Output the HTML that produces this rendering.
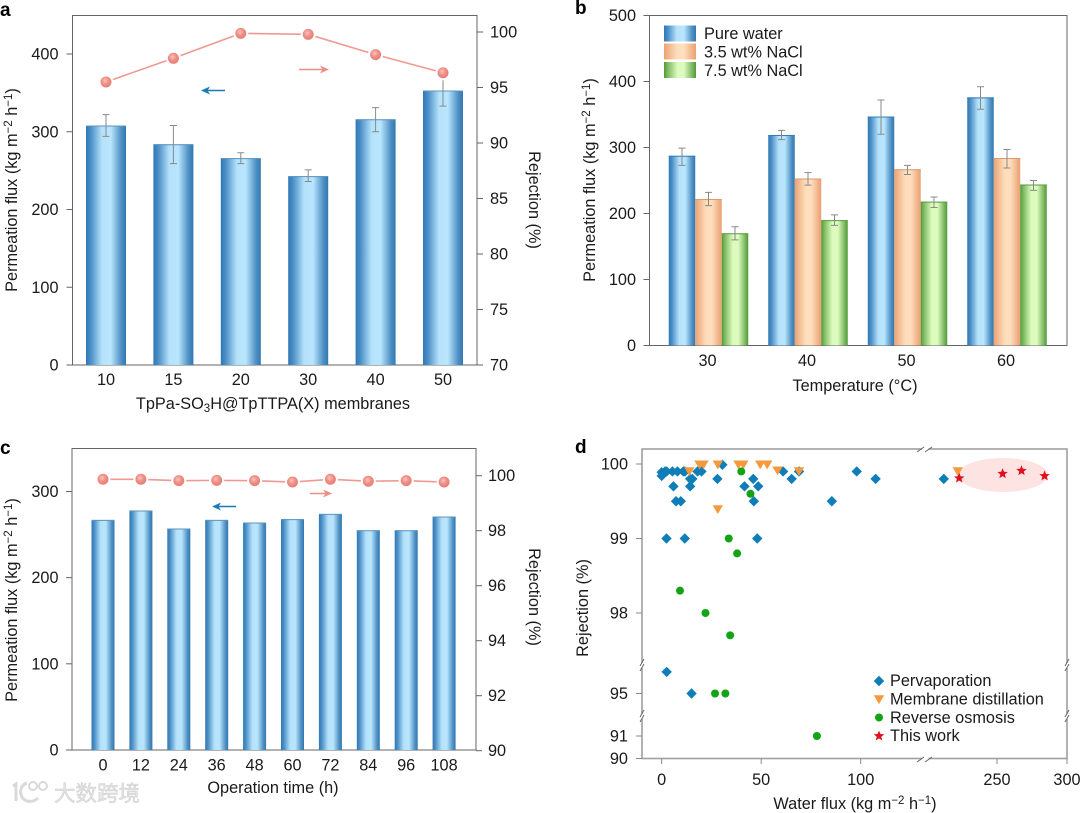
<!DOCTYPE html>
<html lang="en">
<head>
<meta charset="utf-8">
<title>Permeation flux and rejection charts</title>
<style>
html,body{margin:0;padding:0;background:#fff;}
svg{display:block;}
text{font-family:"Liberation Sans","Noto Sans CJK SC",sans-serif;fill:#1a1a1a;font-size:16.3px;}
.panel{font-weight:bold;font-size:19px;fill:#000;}
</style>
</head>
<body>
<svg id="fig" xmlns="http://www.w3.org/2000/svg" width="1080" height="813" viewBox="0 0 1080 813">
<defs>
<linearGradient id="gBlue" x1="0" x2="1" y1="0" y2="0"><stop offset="0" stop-color="#2f78b4"/><stop offset=".12" stop-color="#4a8ec6"/><stop offset=".4" stop-color="#b5e2fb"/><stop offset=".62" stop-color="#b9e6fd"/><stop offset=".88" stop-color="#4f90c4"/><stop offset="1" stop-color="#2f78b0"/></linearGradient>
<linearGradient id="gOrange" x1="0" x2="1" y1="0" y2="0"><stop offset="0" stop-color="#eca273"/><stop offset=".4" stop-color="#fddcb9"/><stop offset=".62" stop-color="#fedfbe"/><stop offset="1" stop-color="#eb9f70"/></linearGradient>
<linearGradient id="gGreen" x1="0" x2="1" y1="0" y2="0"><stop offset="0" stop-color="#4f9a38"/><stop offset=".12" stop-color="#7fbb62"/><stop offset=".42" stop-color="#dcfbbd"/><stop offset=".62" stop-color="#dffbc0"/><stop offset=".88" stop-color="#7db962"/><stop offset="1" stop-color="#4f9a38"/></linearGradient>
<radialGradient id="gDot" cx=".42" cy=".38" r=".65"><stop offset="0" stop-color="#fbc4bc"/><stop offset=".5" stop-color="#ee8f86"/><stop offset="1" stop-color="#e67b72"/></radialGradient>
</defs>

<text class="panel" x="0" y="16">a</text>
<text class="panel" x="575" y="14">b</text>
<text class="panel" x="0" y="454">c</text>
<text class="panel" x="575" y="453">d</text>

<!-- panel frames -->
<rect x="72.5" y="15.5" width="404.5" height="349.5" fill="none" stroke="#666" stroke-width="1"/>
<rect x="649.5" y="15.5" width="417.5" height="330" fill="none" stroke="#666" stroke-width="1"/>
<rect x="72" y="448.5" width="404" height="301.5" fill="none" stroke="#666" stroke-width="1"/>

<g id="a"></g><g id="b"></g><g id="c"></g>
<ellipse cx="1003" cy="475" rx="45" ry="17" fill="#fde3e1"/>
<rect x="642" y="449" width="425" height="309.5" fill="none" stroke="#a0a0a0" stroke-width="1.6"/>
<g id="d"></g>

<!-- axis breaks, panel d -->
<g stroke="#666" stroke-width="1" fill="none">
<path d="M922 446.5h6.5v5h-6.5z" fill="#fff" stroke="none"/>
<path d="M917 452l7-5M925 452l7-5"/>
<path d="M922 756h6.5v5h-6.5z" fill="#fff" stroke="none"/>
<path d="M917 762l7-5M925 762l7-5"/>
<path d="M639 663h6v5h-6zM639 714h6v5h-6zM1064 663h6v5h-6zM1064 714h6v5h-6z" fill="#fff" stroke="none"/>
<path d="M640 666l4-7M640 671l4-7M640 717l4-7M640 722l4-7M1065 666l4-7M1065 671l4-7M1065 717l4-7M1065 722l4-7"/>
</g>

<!-- annotation arrows -->
<g><path d="M225 90.5H204" stroke="#1b7bb4" stroke-width="1.5"/><path d="M201 90.5l9-4-2.5 4 2.5 4z" fill="#1b7bb4"/></g>
<g><path d="M299 69.5H326" stroke="#ee8f86" stroke-width="1.5"/><path d="M329 69.5l-9-4 2.5 4-2.5 4z" fill="#ee8f86"/></g>
<g><path d="M236 506.5H215" stroke="#1b7bb4" stroke-width="1.5"/><path d="M212 506.5l9-4-2.5 4 2.5 4z" fill="#1b7bb4"/></g>
<g><path d="M310 493.5H329" stroke="#ee8f86" stroke-width="1.5"/><path d="M332 493.5l-9-4 2.5 4-2.5 4z" fill="#ee8f86"/></g>

<!-- axis titles -->
<text transform="translate(17,190) rotate(-90)" text-anchor="middle">Permeation flux (kg m<tspan dy="-5" font-size="11.5">−2</tspan><tspan dy="5"> h</tspan><tspan dy="-5" font-size="11.5">−1</tspan><tspan dy="5">)</tspan></text>
<text transform="translate(529,200) rotate(90)" text-anchor="middle">Rejection (%)</text>
<text x="273" y="409" text-anchor="middle">TpPa-SO<tspan dy="3" font-size="11.5">3</tspan><tspan dy="-3">H@TpTTPA(X) membranes</tspan></text>

<text transform="translate(595,180) rotate(-90)" text-anchor="middle">Permeation flux (kg m<tspan dy="-5" font-size="11.5">−2</tspan><tspan dy="5"> h</tspan><tspan dy="-5" font-size="11.5">−1</tspan><tspan dy="5">)</tspan></text>
<text x="855" y="391" text-anchor="middle">Temperature (°C)</text>

<text transform="translate(17,600) rotate(-90)" text-anchor="middle">Permeation flux (kg m<tspan dy="-5" font-size="11.5">−2</tspan><tspan dy="5"> h</tspan><tspan dy="-5" font-size="11.5">−1</tspan><tspan dy="5">)</tspan></text>
<text transform="translate(529,597) rotate(90)" text-anchor="middle">Rejection (%)</text>
<text x="273" y="793" text-anchor="middle">Operation time (h)</text>

<text transform="translate(588,608) rotate(-90)" text-anchor="middle">Rejection (%)</text>
<text x="855" y="809" text-anchor="middle">Water flux (kg m<tspan dy="-5" font-size="11.5">−2</tspan><tspan dy="5"> h</tspan><tspan dy="-5" font-size="11.5">−1</tspan><tspan dy="5">)</tspan></text>

<!-- legend panel b -->
<g>
<rect x="664" y="25.5" width="32" height="16" fill="url(#gBlue)"/>
<rect x="664" y="43.5" width="32" height="16" fill="url(#gOrange)"/>
<rect x="664" y="62" width="32" height="16" fill="url(#gGreen)"/>
<text x="704" y="39">Pure water</text>
<text x="704" y="57.5">3.5 wt% NaCl</text>
<text x="704" y="76">7.5 wt% NaCl</text>
</g>

<!-- legend panel d -->
<g id="legendD">
<text x="890" y="686">Pervaporation</text>
<text x="890" y="704.5">Membrane distillation</text>
<text x="890" y="723">Reverse osmosis</text>
<text x="890" y="741">This work</text>
</g>

<!-- watermark -->
<g>
<path d="M13 786l3-2v17M27 783c-8 2-9 15 0 18 4 1 8 0 11-3" fill="none" stroke="#d9d9d9" stroke-width="3"/>
<circle cx="33" cy="786" r="4" fill="none" stroke="#d9d9d9" stroke-width="2"/>
<circle cx="43" cy="786" r="4" fill="none" stroke="#d9d9d9" stroke-width="2"/>
<text x="54" y="801" style="font-size:21.5px;font-family:'Liberation Sans','Noto Sans CJK SC',sans-serif;fill:#e2e2e2;stroke:#cfcfcf;stroke-width:.5;font-weight:normal">大数跨境</text>
</g>

<script>
// ---- Panel a data ----
const aCategories = ["10","15","20","30","40","50"];
const aFlux = [308,284,266,243,316,353];
const aFluxHi = [322,308,273,251,331,375];
const aFluxLo = [294,259,259,236,300,333];
const aRejection = [95.5,97.63,99.88,99.79,97.96,96.33];
const aFluxTicks = [0,100,200,300,400];
const aRejTicks = [70,75,80,85,90,95,100];

// ---- Panel b data ----
const bCategories = ["30","40","50","60"];
const bPure = [287.5,319,347,376];
const bPureHi = [299,326,372,392];
const bPureLo = [273,312,320,358];
const bNaCl35 = [222,253,267,284];
const bNaCl35Hi = [232,262,273,297];
const bNaCl35Lo = [212,243,259,269];
const bNaCl75 = [170,190,218,244];
const bNaCl75Hi = [180,198,225,250];
const bNaCl75Lo = [160,182,209,235];
const bTicks = [0,100,200,300,400,500];

// ---- Panel c data ----
const cCategories = ["0","12","24","36","48","60","72","84","96","108"];
const cFlux = [267,278,257,267,264,268,274,255,255,271];
const cRejection = [99.87,99.87,99.82,99.83,99.82,99.77,99.87,99.8,99.82,99.77];
const cFluxTicks = [0,100,200,300];
const cRejTicks = [90,92,94,96,98,100];

// ---- Panel d data ----
const dXTicks = [0,50,100,250,300];
const dYTicks = [100,99,98,95,91,90];
const pervapX = [0,0,1.7,2.5,5.4,7.9,10.9,11.7,18,20,15.4,14.3,5.9,14.3,7.2,9.6,2.4,11.6,30.5,28,41.6,46,48.5,46.3,48,61,65.3,69,85.5,98,107.5,212,2.5,15];
const pervapY = [99.84,99.89,99.9,99.9,99.9,99.9,99.9,99.9,99.9,99.9,99.8,99.8,99.7,99.7,99.5,99.5,99,99,99.99,99.8,99.7,99.8,99.7,99.5,99,99.9,99.8,99.9,99.5,99.9,99.8,99.8,95.3,95];
const distillX = [13.9,19,21,28.2,38.6,41,49.5,53,58.2,69,28.2,222];
const distillY = [99.9,99.99,99.99,99.99,99.99,99.99,99.99,99.99,99.91,99.9,99.39,99.9];
const osmosisX = [40,44.6,33.7,37.9,9.2,22,34.4,26.8,32,78];
const osmosisY = [99.9,99.6,99,98.8,98.3,98,97.7,95,95,91];
const thisWorkX = [223,254,267.5,284];
const thisWorkY = [99.81,99.87,99.91,99.84];

// ---- Axis functions ----
const ax = i => 106 + i * 67.4;
const ayL = v => 365 - v * 0.7775;
const ayR = v => 365 - (v - 70) * 11.1;
const bx = i => 708.5 + i * 99.5;
const by = v => 345.5 - v * 0.66;
const cx = i => 103 + i * 37.9;
const cyL = v => 750 - v * 0.8617;
const cyR = v => 475.7 + (100 - v) * 27.5;
const dx = v => v <= 130 ? 661.7 + v * 1.99 : 997 + (v - 250) * 1.4;
const dy = v => v >= 97 ? 464 + (100 - v) * 74.5 : (v >= 94 ? 693.5 - (v - 95) * 72 : 736 + (91 - v) * 22.5);

const NS = "http://www.w3.org/2000/svg";
function make(tag, parent, props) {
  const n = document.createElementNS(NS, tag);
  for (const k in props) n.setAttribute(k, props[k]);
  parent.appendChild(n);
  return n;
}
function tick(parent, x1, y1, x2, y2, color, name) {
  const l = make('line', parent, {x1: x1, y1: y1, x2: x2, y2: y2, stroke: color, 'stroke-width': 1});
  
  
}
function label(parent, x, y, str, anchor, name) {
  const t = make('text', parent, {x: x, y: y, 'text-anchor': anchor});
  t.textContent = str;
  
  
}
function leftTicks(parent, vals, scale, axisX, labelX, prefix) {
  vals.forEach(v => {
    tick(parent, axisX - 6, scale(v), axisX, scale(v), '#666', prefix + '-tick-' + v);
    label(parent, labelX, scale(v) + 5.5, String(v), 'end', prefix + '-tick-label-' + v);
  });
}
function rightTicks(parent, vals, scale, axisX, labelX, prefix) {
  vals.forEach(v => {
    tick(parent, axisX, scale(v), axisX + 6, scale(v), '#666', prefix + '-tick-' + v);
    label(parent, labelX, scale(v) + 5.5, String(v), 'start', prefix + '-tick-label-' + v);
  });
}
function bar(parent, cxv, w, top, base, grad, edge, name) {
  const r = make('rect', parent, {x: cxv - w / 2, y: top, width: w, height: base - top, fill: 'url(#' + grad + ')'});
  
  
  make('line', parent, {x1: cxv - w / 2, x2: cxv + w / 2, y1: top + .5, y2: top + .5, stroke: edge, 'stroke-width': 1});
}
function errorBar(parent, x, hi, lo, name) {
  const g = make('g', parent, {stroke: '#8a8a8a', 'stroke-width': 1, fill: 'none'});
  
  
  make('path', g, {d: 'M' + x + ' ' + hi + 'V' + lo + 'M' + (x - 3.5) + ' ' + hi + 'H' + (x + 3.5) + 'M' + (x - 3.5) + ' ' + lo + 'H' + (x + 3.5)});
}
function dotLine(parent, xs, ys, name) {
  const pl = make('polyline', parent, {points: xs.map((x, i) => x + ',' + ys[i]).join(' '), fill: 'none', stroke: '#ee9a92', 'stroke-width': 1.6});
  
  
  xs.forEach((x, i) => {
    make('circle', parent, {cx: x, cy: ys[i], r: 7.5, fill: '#fff'});
    const c = make('circle', parent, {cx: x, cy: ys[i], r: 5.5, fill: 'url(#gDot)'});
    
    
  });
}

// ---- Panel a ----
const gA = document.getElementById('a');
aCategories.forEach((c, i) => {
  bar(gA, ax(i), 40, ayL(aFlux[i]), 365, 'gBlue', '#5f93bd', 'bar-' + c);
  errorBar(gA, ax(i), ayL(aFluxHi[i]), ayL(aFluxLo[i]), 'error-bar-' + c);
  label(gA, ax(i), 385, c, 'middle', 'x-tick-label-' + c);
});
dotLine(gA, aCategories.map((c, i) => ax(i)), aRejection.map(ayR), 'rejection');
leftTicks(gA, aFluxTicks, ayL, 72.5, 58.5, 'flux-axis');
rightTicks(gA, aRejTicks, ayR, 477, 490, 'rejection-axis');

// ---- Panel b ----
const gB = document.getElementById('b');
bCategories.forEach((c, i) => {
  const w = 26.5;
  bar(gB, bx(i) - w, w, by(bPure[i]), 345.5, 'gBlue', '#3a7db2', 'bar-pure-water-' + c);
  bar(gB, bx(i), w, by(bNaCl35[i]), 345.5, 'gOrange', '#d99a72', 'bar-3-5-nacl-' + c);
  bar(gB, bx(i) + w, w, by(bNaCl75[i]), 345.5, 'gGreen', '#5d9d45', 'bar-7-5-nacl-' + c);
  errorBar(gB, bx(i) - w, by(bPureHi[i]), by(bPureLo[i]), 'error-bar-pure-water-' + c);
  errorBar(gB, bx(i), by(bNaCl35Hi[i]), by(bNaCl35Lo[i]), 'error-bar-3-5-nacl-' + c);
  errorBar(gB, bx(i) + w, by(bNaCl75Hi[i]), by(bNaCl75Lo[i]), 'error-bar-7-5-nacl-' + c);
  label(gB, bx(i) - 1, 366, c, 'middle', 'x-tick-label-' + c);
});
leftTicks(gB, bTicks, by, 649.5, 636, 'flux-axis');

// ---- Panel c ----
const gC = document.getElementById('c');
cCategories.forEach((c, i) => {
  bar(gC, cx(i), 23, cyL(cFlux[i]), 750, 'gBlue', '#5f93bd', 'bar-' + c);
  label(gC, cx(i), 770.5, c, 'middle', 'x-tick-label-' + c);
});
dotLine(gC, cCategories.map((c, i) => cx(i)), cRejection.map(cyR), 'rejection');
leftTicks(gC, cFluxTicks, cyL, 72, 58.5, 'flux-axis');
rightTicks(gC, cRejTicks, cyR, 476, 488, 'rejection-axis');

// ---- Panel d ----
const gD = document.getElementById('d');
function diamond(p, x, y, name) {
  const m = make('path', p, {d: 'M' + x + ' ' + (y - 5.2) + 'l5.2 5.2-5.2 5.2-5.2-5.2z', fill: '#0f7db8'});
  
  
}
function triangle(p, x, y, name) {
  const m = make('path', p, {d: 'M' + (x - 5.2) + ' ' + (y - 4.2) + 'h10.4l-5.2 8.8z', fill: '#f39a3f'});
  
  
}
function circle(p, x, y, name) {
  const m = make('circle', p, {cx: x, cy: y, r: 4, fill: '#12a414'});
  
  
}
function star(p, x, y, name) {
  let d = '';
  for (let k = 0; k < 10; k++) {
    const rad = k % 2 ? 2.4 : 5.5;
    const an = -Math.PI / 2 + k * Math.PI / 5;
    d += (k ? 'L' : 'M') + (x + rad * Math.cos(an)).toFixed(2) + ' ' + (y + rad * Math.sin(an)).toFixed(2);
  }
  const m = make('path', p, {d: d + 'z', fill: '#e2101f'});
  
  
}
pervapX.forEach((v, i) => diamond(gD, dx(v), dy(pervapY[i]), 'pervaporation-point'));
distillX.forEach((v, i) => triangle(gD, dx(v), dy(distillY[i]), 'membrane-distillation-point'));
osmosisX.forEach((v, i) => circle(gD, dx(v), dy(osmosisY[i]), 'reverse-osmosis-point'));
thisWorkX.forEach((v, i) => star(gD, dx(v), dy(thisWorkY[i]), 'this-work-point'));
dYTicks.forEach(v => {
  tick(gD, 636, dy(v), 642, dy(v), '#888', 'y-tick-' + v);
  label(gD, 628, dy(v) + 5.5, String(v), 'end', 'y-tick-label-' + v);
});
dXTicks.forEach(v => {
  tick(gD, dx(v), 758.5, dx(v), 764, '#888', 'x-tick-' + v);
  label(gD, dx(v), 785, String(v), 'middle', 'x-tick-label-' + v);
});
const gL = document.getElementById('legendD');
diamond(gL, 879, 681, 'legend-marker-pervaporation');
triangle(gL, 879, 699.5, 'legend-marker-membrane-distillation');
circle(gL, 879, 717.5, 'legend-marker-reverse-osmosis');
star(gL, 879, 736, 'legend-marker-this-work');
</script>
</svg>
</body>
</html>
